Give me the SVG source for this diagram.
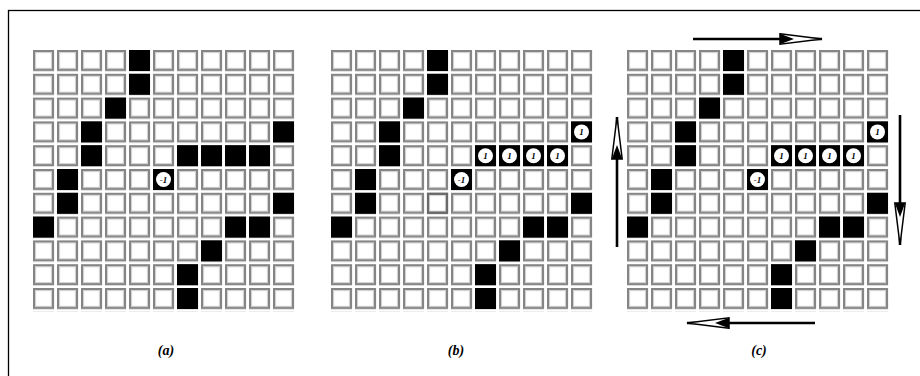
<svg xmlns="http://www.w3.org/2000/svg" xmlns:xlink="http://www.w3.org/1999/xlink" width="920" height="376" viewBox="0 0 920 376">
<style>
.blk{fill:#000}
.tok circle{fill:#fff}
.tok text{font-family:"Liberation Serif",serif;font-style:italic;font-weight:bold;font-size:9px;fill:#000;text-anchor:middle}
.lab{font-family:"Liberation Serif",serif;font-style:italic;font-weight:bold;font-size:14px;fill:#000;text-anchor:middle}
.arr{stroke:#000;stroke-width:2.6;fill:none;marker-end:url(#head)}
</style>
<defs>
<pattern id="cells" patternUnits="userSpaceOnUse" x="0" y="0" width="24" height="23.8">
<rect x="1" y="1" width="19" height="19" fill="#fff" stroke="#858585" stroke-width="2.2"/>
<rect x="2.6" y="2.6" width="15.8" height="15.8" fill="none" stroke="#cfcfcf" stroke-width="1"/>
</pattern>
<rect id="b" width="21" height="21" class="blk"/>
<g id="t1" class="tok"><rect width="21" height="21" class="blk"/><circle cx="10.5" cy="10.5" r="7.5"/><text x="10.5" y="13.8">1</text></g>
<g id="tm" class="tok"><rect width="21" height="21" class="blk"/><circle cx="10.5" cy="10.5" r="7.5"/><text x="10.5" y="13.8">-1</text></g>
<marker id="head" markerUnits="userSpaceOnUse" markerWidth="46" markerHeight="14" viewBox="-1 -1 46 14" refX="42" refY="6" orient="auto">
<path d="M0,0.8 L42,6 L0,11.2 Z" fill="#fff" stroke="#000" stroke-width="1.5"/>
<path d="M0,0.8 L14,6 L0,11.2 Z" fill="#000"/>
</marker>
</defs>
<rect x="8.5" y="10.5" width="1000" height="500" fill="none" stroke="#000" stroke-width="1.3"/>

<g id="panel-a" transform="translate(33,50)">
<rect width="264" height="261.8" fill="url(#cells)"/>
<use xlink:href="#b" x="96" y="0"/>
<use xlink:href="#b" x="96" y="23.8"/>
<use xlink:href="#b" x="72" y="47.6"/>
<use xlink:href="#b" x="48" y="71.4"/>
<use xlink:href="#b" x="240" y="71.4"/>
<use xlink:href="#b" x="48" y="95.2"/>
<use xlink:href="#b" x="144" y="95.2"/>
<use xlink:href="#b" x="168" y="95.2"/>
<use xlink:href="#b" x="192" y="95.2"/>
<use xlink:href="#b" x="216" y="95.2"/>
<use xlink:href="#b" x="24" y="119"/>
<use xlink:href="#tm" x="120" y="119"/>
<use xlink:href="#b" x="24" y="142.8"/>
<use xlink:href="#b" x="240" y="142.8"/>
<use xlink:href="#b" x="0" y="166.6"/>
<use xlink:href="#b" x="192" y="166.6"/>
<use xlink:href="#b" x="216" y="166.6"/>
<use xlink:href="#b" x="168" y="190.4"/>
<use xlink:href="#b" x="144" y="214.2"/>
<use xlink:href="#b" x="144" y="238"/>
</g>

<g id="panel-b" transform="translate(331,50)">
<rect width="264" height="261.8" fill="url(#cells)"/>
<use xlink:href="#b" x="96" y="0"/>
<use xlink:href="#b" x="96" y="23.8"/>
<use xlink:href="#b" x="72" y="47.6"/>
<use xlink:href="#b" x="48" y="71.4"/>
<use xlink:href="#t1" x="240" y="71.4"/>
<use xlink:href="#b" x="48" y="95.2"/>
<use xlink:href="#t1" x="144" y="95.2"/>
<use xlink:href="#t1" x="168" y="95.2"/>
<use xlink:href="#t1" x="192" y="95.2"/>
<use xlink:href="#t1" x="216" y="95.2"/>
<use xlink:href="#b" x="24" y="119"/>
<use xlink:href="#tm" x="120" y="119"/>
<use xlink:href="#b" x="24" y="142.8"/>
<rect x="97" y="143.8" width="19" height="19" fill="none" stroke="#6a6a6a" stroke-width="2.2"/>
<use xlink:href="#b" x="240" y="142.8"/>
<use xlink:href="#b" x="0" y="166.6"/>
<use xlink:href="#b" x="192" y="166.6"/>
<use xlink:href="#b" x="216" y="166.6"/>
<use xlink:href="#b" x="168" y="190.4"/>
<use xlink:href="#b" x="144" y="214.2"/>
<use xlink:href="#b" x="144" y="238"/>
</g>

<g id="panel-c" transform="translate(627,50)">
<rect width="264" height="261.8" fill="url(#cells)"/>
<use xlink:href="#b" x="96" y="0"/>
<use xlink:href="#b" x="96" y="23.8"/>
<use xlink:href="#b" x="72" y="47.6"/>
<use xlink:href="#b" x="48" y="71.4"/>
<use xlink:href="#t1" x="240" y="71.4"/>
<use xlink:href="#b" x="48" y="95.2"/>
<use xlink:href="#t1" x="144" y="95.2"/>
<use xlink:href="#t1" x="168" y="95.2"/>
<use xlink:href="#t1" x="192" y="95.2"/>
<use xlink:href="#t1" x="216" y="95.2"/>
<use xlink:href="#b" x="24" y="119"/>
<use xlink:href="#tm" x="120" y="119"/>
<use xlink:href="#b" x="24" y="142.8"/>
<use xlink:href="#b" x="240" y="142.8"/>
<use xlink:href="#b" x="0" y="166.6"/>
<use xlink:href="#b" x="192" y="166.6"/>
<use xlink:href="#b" x="216" y="166.6"/>
<use xlink:href="#b" x="168" y="190.4"/>
<use xlink:href="#b" x="144" y="214.2"/>
<use xlink:href="#b" x="144" y="238"/>
</g>

<g id="connectors">
<line class="arr" x1="693" y1="39" x2="822" y2="39"/>
<line class="arr" x1="900" y1="115" x2="900" y2="245"/>
<line class="arr" x1="815" y1="323" x2="687" y2="323"/>
<line class="arr" x1="617" y1="247" x2="617" y2="117"/>
</g>

<g id="labels">
<text class="lab" x="166" y="355">(a)</text>
<text class="lab" x="456" y="355">(b)</text>
<text class="lab" x="759" y="355">(c)</text>
</g>
</svg>
